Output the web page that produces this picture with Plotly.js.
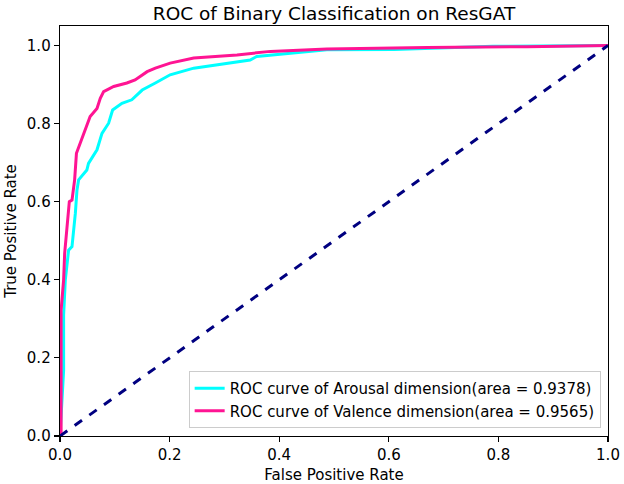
<!DOCTYPE html>
<html>
<head>
<meta charset="utf-8">
<script src="https://cdn.plot.ly/plotly-3.0.1.min.js"></script>
<style>html,body{margin:0;padding:0;background:#fff;}#chart{width:624px;height:484px;}</style>
</head>
<body>
<div id="chart"></div>
<script>
const arousalFpr = [0, 0.0066, 0.0066, 0.0097, 0.0157, 0.0219, 0.028, 0.031, 0.034, 0.049, 0.052, 0.0675, 0.0766, 0.0887, 0.096, 0.113, 0.131, 0.150, 0.174, 0.201, 0.244, 0.347, 0.359, 0.426, 0.487, 0.61, 0.79, 1.0];
const arousalTpr = [0, 0.168, 0.31, 0.40, 0.476, 0.485, 0.570, 0.630, 0.656, 0.681, 0.698, 0.733, 0.775, 0.801, 0.835, 0.852, 0.861, 0.886, 0.904, 0.925, 0.942, 0.963, 0.972, 0.981, 0.989, 0.990, 0.998, 1.0];
const valenceFpr = [0, 0.002, 0.002, 0.0066, 0.0085, 0.0128, 0.017, 0.0219, 0.0267, 0.030, 0.037, 0.046, 0.055, 0.0675, 0.0735, 0.0796, 0.098, 0.122, 0.137, 0.159, 0.174, 0.201, 0.244, 0.323, 0.384, 0.487, 0.670, 0.852, 1.0];
const valenceTpr = [0, 0, 0.322, 0.40, 0.468, 0.527, 0.60, 0.604, 0.656, 0.724, 0.750, 0.784, 0.818, 0.839, 0.865, 0.882, 0.895, 0.904, 0.912, 0.933, 0.942, 0.955, 0.968, 0.976, 0.985, 0.991, 0.995, 0.997, 1.0];
const chanceX = [0, 1];
const chanceY = [0, 1];
const xTicks = [0, 0.2, 0.4, 0.6, 0.8, 1.0];
const yTicks = [0, 0.2, 0.4, 0.6, 0.8, 1.0];
const tickLabels = ["0.0", "0.2", "0.4", "0.6", "0.8", "1.0"];
const seriesNames = ["ROC curve of Arousal dimension(area = 0.9378)", "ROC curve of Valence dimension(area = 0.9565)"];

const font = "DejaVu Sans, sans-serif";
const data = [
  {x: arousalFpr, y: arousalTpr, mode: "lines", name: seriesNames[0], line: {color: "#00FFFF", width: 3}},
  {x: valenceFpr, y: valenceTpr, mode: "lines", name: seriesNames[1], line: {color: "#FF1493", width: 3}},
  {x: chanceX, y: chanceY, mode: "lines", showlegend: false, line: {color: "#000080", width: 3, dash: "dash"}}
];
const axisCommon = {
  showline: true, mirror: true, linecolor: "#000", linewidth: 1.3,
  ticks: "outside", ticklen: 5, tickwidth: 1.2, tickcolor: "#000",
  showgrid: false, zeroline: false,
  tickfont: {family: font, size: 15, color: "#000"},
  ticktext: tickLabels
};
const layout = {
  width: 624, height: 484,
  margin: {l: 60, r: 16, t: 26, b: 48},
  paper_bgcolor: "#fff", plot_bgcolor: "#fff",
  font: {family: font, color: "#000"},
  title: {text: "ROC of Binary Classification on ResGAT", font: {family: font, size: 18.5, color: "#000"}, x: 0.5, xref: "paper", y: 0.973, yanchor: "middle"},
  xaxis: Object.assign({}, axisCommon, {range: [0, 1], tickmode: "array", tickvals: xTicks,
    title: {text: "False Positive Rate", font: {family: font, size: 15, color: "#000"}, standoff: 8}}),
  yaxis: Object.assign({}, axisCommon, {range: [0, 1.05], tickmode: "array", tickvals: yTicks,
    title: {text: "True Positive Rate", font: {family: font, size: 15, color: "#000"}, standoff: 6}}),
  legend: {x: 0.9866, y: 0.0195, xanchor: "right", yanchor: "bottom", bgcolor: "rgba(255,255,255,0.8)",
    bordercolor: "#ccc", borderwidth: 1, font: {family: font, size: 15, color: "#000"}, tracegroupgap: 0, itemwidth: 30},
  showlegend: true
};
Plotly.newPlot("chart", data, layout, {displayModeBar: false, staticPlot: true});
</script>
</body>
</html>
